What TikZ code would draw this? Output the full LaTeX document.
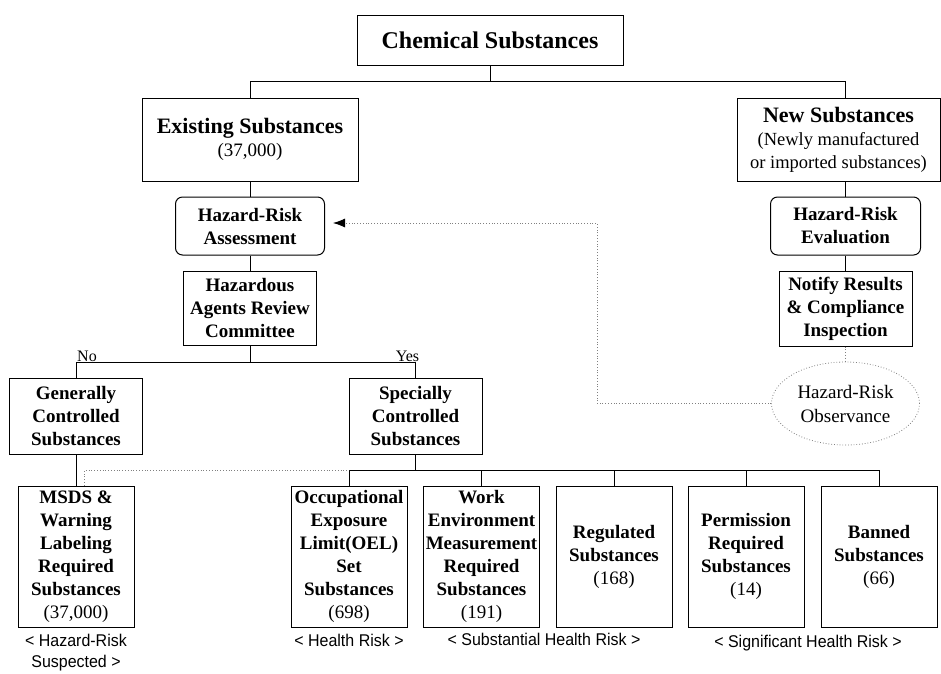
\documentclass[tikz,border=0pt]{standalone}
\usepackage{fontspec}
\setmainfont{Liberation Serif}
\newfontfamily\capfont[FakeStretch=0.94]{Liberation Sans}
\usetikzlibrary{shapes.geometric,arrows.meta}

\begin{document}
\begin{tikzpicture}[x=1pt, y=-1pt,
	box/.style={draw, line width=1pt, align=center, inner sep=0pt,
		font=\fontsize{19}{23}\selectfont\bfseries},
	rbox/.style={box, rounded corners=7pt},
	leaf/.style={box, minimum width=116pt, minimum height=141pt},
	line/.style={line width=1pt},
	obs/.style={line width=0.8pt, dotted, gray},
	risk/.style={font=\fontsize{17}{21}\selectfont\capfont, align=center, inner sep=0pt}]

	\useasboundingbox (0, 0) rectangle (941, 673);

	% 顶层
	\node[box, minimum width=266pt, minimum height=50pt,
		font=\fontsize{24}{28}\selectfont\bfseries] (chem) at (490, 40) {Chemical Substances};
	\node[box, minimum width=216pt, minimum height=83pt,
		font=\fontsize{22}{23}\selectfont\bfseries] (exist) at (250, 139.5)
		{Existing Substances\\ \fontsize{19}{23}\selectfont\mdseries (37,000)};
	\node[box, minimum width=203pt, minimum height=83pt,
		font=\fontsize{22}{23}\selectfont\bfseries] (new) at (838.5, 139.5)
		{New Substances\\ \fontsize{18.5}{22}\selectfont\mdseries (Newly manufactured\\
		\fontsize{18.5}{22}\selectfont\mdseries or imported substances)};

	% 评估
	\node[rbox, minimum width=149pt, minimum height=58pt] (hra) at (250, 226) {Hazard-Risk\\Assessment};
	\node[box, minimum width=133pt, minimum height=74pt] (committee) at (250, 308) {Hazardous\\Agents Review\\Committee};
	\node[rbox, minimum width=150pt, minimum height=58pt] (hre) at (845.5, 226) {Hazard-Risk\\Evaluation};
	\node[box, minimum width=133pt, minimum height=75pt] (notify) at (845.5, 308.5) {Notify Results\\\& Compliance\\Inspection};
	\node[ellipse, draw=gray, line width=0.8pt, dotted, minimum width=148pt, minimum height=83pt,
		inner sep=0pt, align=center, font=\fontsize{19}{24}\selectfont] (observe) at (845.5, 403.5) {Hazard-Risk\\Observance};

	% 管理类别
	\node[box, minimum width=133pt, minimum height=76pt] (general) at (76, 416) {Generally\\Controlled\\Substances};
	\node[box, minimum width=133pt, minimum height=76pt] (special) at (415.5, 416) {Specially\\Controlled\\Substances};

	% 底层
	\node[leaf] (msds) at (76, 556.5) {MSDS \&\\Warning\\Labeling\\Required\\Substances\\\mdseries (37,000)};
	\node[leaf] (oel) at (349, 556.5) {Occupational\\Exposure\\Limit(OEL)\\Set\\Substances\\\mdseries (698)};
	\node[leaf] (work) at (481.5, 556.5) {Work\\Environment\\Measurement\\Required\\Substances\\\mdseries (191)};
	\node[leaf] (reg) at (614, 556.5) {Regulated\\Substances\\\mdseries (168)};
	\node[leaf] (perm) at (746, 556.5) {Permission\\Required\\Substances\\\mdseries (14)};
	\node[leaf] (ban) at (879, 556.5) {Banned\\Substances\\\mdseries (66)};

	% 连线
	\draw[line] (chem.south) -- ++(0, 16) coordinate (c1);
	\draw[line] (exist.north) |- (c1) -| (hre.north |- new.north);
	\draw[line] (exist.south) -- (hra.north);
	\draw[line] (hra.south) -- (committee.north);
	\draw[line] (hre.north |- new.south) -- (hre.north);
	\draw[line] (hre.south) -- (notify.north);

	\draw[line] (committee.south) -- ++(0, 17) coordinate (c2);
	\draw[line] (general.north) |- (c2) -| (special.north);
	\node[above right, inner sep=1pt, font=\fontsize{16}{18}\selectfont] at (general.north |- c2) {No};
	\node[above, inner sep=1pt, font=\fontsize{16}{18}\selectfont] at ([xshift=-8pt]special.north |- c2) {Yes};

	\draw[line] (general.south) -- (msds.north);
	\draw[line] (special.south) -- ++(0, 16) coordinate (c3);
	\draw[line] (oel.north) |- (ban.north |- c3) -- (ban.north);
	\foreach \n in {work, reg, perm}
		\draw[line] (\n.north) -- (\n.north |- c3);

	% 虚线
	\draw[obs] ([xshift=8pt]msds.north) |- (oel.north |- c3);
	\draw[obs] (notify.south) -- (observe.north);
	\coordinate (turn) at (597, 223);
	\draw[obs, -{Latex[length=12pt, width=9pt, black]}] (observe.west) -| (turn) -- ([xshift=8pt, yshift=3pt]hra.east);

	% 风险等级
	\node[risk, below=6pt] at (msds.south) {< Hazard-Risk\\Suspected >};
	\node[risk, below=6pt] at (oel.south) {< Health Risk >};
	\node[risk, below=6pt] at (544, 627) {< Substantial Health Risk >};
	\node[risk, below=8pt] at (808, 627) {< Significant Health Risk >};
\end{tikzpicture}
\end{document}
